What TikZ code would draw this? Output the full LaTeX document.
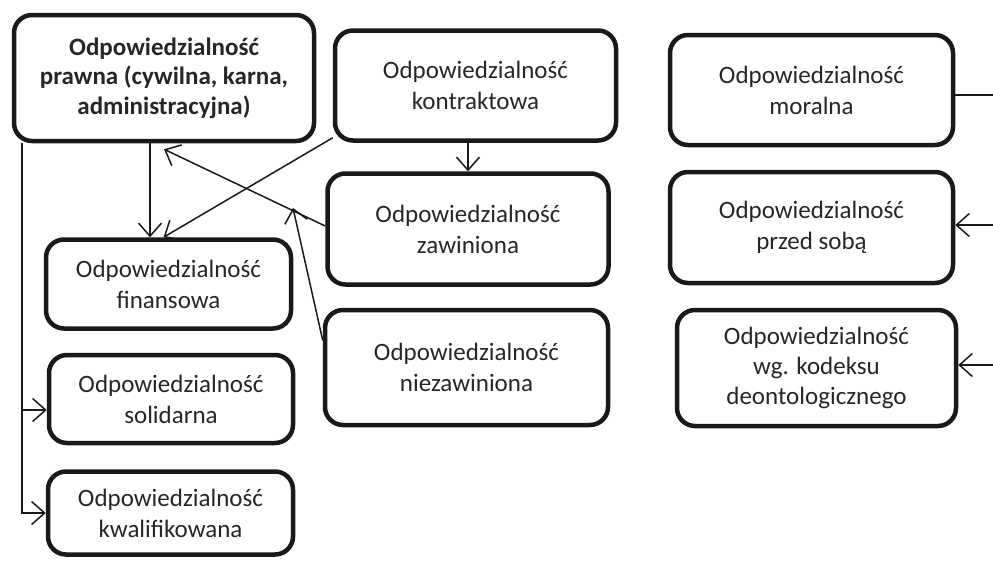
\documentclass[tikz,border=0pt]{standalone}
\usepackage{fontspec}
\setmainfont{Carlito}
\usetikzlibrary{arrows.meta,calc}
\begin{document}
\begin{tikzpicture}[x=1pt,y=-1pt,
  box/.style={draw=black!90, line width=4.5pt, rounded corners=18pt, align=center,
    inner sep=0pt, font=\fontsize{25}{31}\selectfont, text=black!85},
  conn/.style={draw=black!90, line width=1.5pt},
  arr/.style={conn, -{Straight Barb[length=13pt,width=23pt,line width=1.5pt]}}]
\useasboundingbox (0,0) rectangle (993,560);

% left column
\node[box, minimum width=300pt, minimum height=126pt, font=\fontsize{25}{29.5}\selectfont\bfseries]
  (prawna) at (164,78) {Odpowiedzialność\\prawna (cywilna, karna,\\administracyjna)};
\node[box, minimum width=245pt, minimum height=89pt] (fin) at (168.5,284) {Odpowiedzialność\\finansowa};
\node[box, minimum width=244pt, minimum height=88pt] (solid) at (171,399) {Odpowiedzialność\\solidarna};
\node[box, minimum width=245pt, minimum height=83pt] (kwal) at (170.5,513) {Odpowiedzialność\\kwalifikowana};

% middle column
\node[box, minimum width=281pt, minimum height=110pt] (kontr) at (475.5,85.5) {Odpowiedzialność\\kontraktowa};
\node[box, minimum width=281pt, minimum height=111pt] (zaw) at (468,229) {Odpowiedzialność\\zawiniona};
\node[box, minimum width=283pt, minimum height=115pt] (niez) at (466.5,367.5) {Odpowiedzialność\\niezawiniona};

% right column
\node[box, minimum width=283pt, minimum height=110pt] (moral) at (811.5,90) {Odpowiedzialność\\moralna};
\node[box, minimum width=283pt, minimum height=111pt] (przed) at (811.5,227.5) {Odpowiedzialność\\przed sobą};
\node[box, minimum width=279pt, minimum height=116pt, font=\fontsize{25}{30}\selectfont] (deon) at (816.5,368) {Odpowiedzialność\\wg. kodeksu\\deontologicznego};

% connectors of the left column
\coordinate (lt) at ([xshift=10pt]prawna.south west);
\coordinate (sw) at ([yshift=-11pt]solid.west);
\draw[arr] (lt) |- (kwal.west);
\draw[arr] (lt |- sw) -- (sw);
\draw[arr] ([xshift=-14pt]prawna.south) -- ([xshift=-14pt]prawna.south |- fin.north);
\draw[arr] ([yshift=5pt]kontr.south west) -- ([xshift=-5pt]fin.north);
\draw[arr] ([yshift=3pt]zaw.west) -- ([yshift=-6pt]prawna.south);
\coordinate (nz) at (293,208);
\draw[arr] ([yshift=27pt]niez.west) -- (nz);
\draw[arr] (zaw.north |- kontr.south) -- (zaw.north);

% connectors leaving the right edge
\coordinate (r1) at (993,95);
\coordinate (r2) at (993,225);
\coordinate (r3) at (993,365);
\draw[conn] ([yshift=-5pt]moral.east) -- (r1);
\draw[arr] (r2) -- (r2 -| przed.east);
\draw[arr] (r3) -- (r3 -| deon.east);
\end{tikzpicture}
\end{document}
